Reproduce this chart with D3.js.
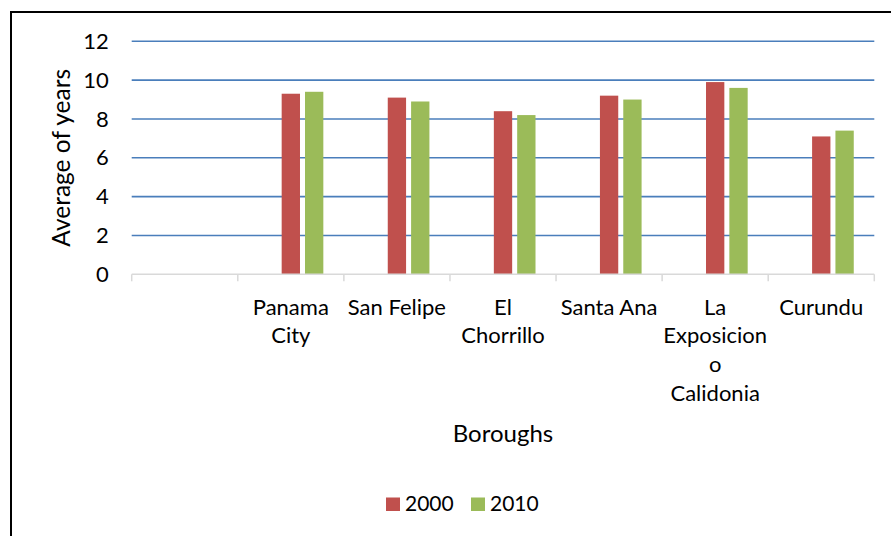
<!DOCTYPE html>
<html>
<head>
<meta charset="utf-8">
<script src="https://cdn.jsdelivr.net/npm/d3@7"></script>
<style>
  html, body { margin: 0; padding: 0; background: #fff; }
  svg { display: block; font-family: Lato, "Open Sans", sans-serif; }
</style>
</head>
<body>
<svg id="chart" width="891" height="536"></svg>
<script>
// Boroughs (line breaks mark where each axis label wraps); the first category is blank
const categories = ["", "Panama\nCity", "San Felipe", "El\nChorrillo", "Santa Ana", "La\nExposicion\no\nCalidonia", "Curundu"];
const seriesNames = ["2000", "2010"];
const values2000 = [null, 9.3, 9.1, 8.4, 9.2, 9.9, 7.1];
const values2010 = [null, 9.4, 8.9, 8.2, 9.0, 9.6, 7.4];
const yTicks = [0, 2, 4, 6, 8, 10, 12];
const colors = ["#c0504d", "#9bbb59"];
// each cluster keeps an empty leading slot before the two series
const clusterSlots = ["", "2000", "2010"];

const svg = d3.select("#chart");
const W = 891, H = 536;
const plot = { left: 131.7, right: 874.3, top: 41.3, bottom: 274.3 };

// outer frame (runs past the right and bottom edges)
svg.append("rect")
  .attr("x", 11).attr("y", 12)
  .attr("width", W + 20).attr("height", H + 20)
  .attr("fill", "#fff").attr("stroke", "#000").attr("stroke-width", 2);

const x0 = d3.scaleBand().domain(categories).range([plot.left, plot.right]).padding(0);
const x1 = d3.scaleBand().domain(clusterSlots).range([0, x0.bandwidth()])
  .paddingInner(0.215).paddingOuter(0.88);
const y = d3.scaleLinear().domain([0, 12]).range([plot.bottom, plot.top]);

// horizontal gridlines
svg.append("g").selectAll("line")
  .data(yTicks.filter(t => t > 0))
  .join("line")
  .attr("x1", plot.left).attr("x2", plot.right)
  .attr("y1", d => y(d)).attr("y2", d => y(d))
  .attr("stroke", "#4a7ebb").attr("stroke-width", 1.6);

// y axis labels
const yAxis = svg.append("g")
  .attr("transform", `translate(${plot.left},0)`)
  .call(d3.axisLeft(y).tickValues(yTicks).tickSize(0).tickPadding(23));
yAxis.select(".domain").remove();
yAxis.selectAll("text")
  .attr("font-family", "Lato, sans-serif")
  .attr("font-size", 22).attr("fill", "#000");

// bars
const seriesData = [values2000, values2010];
const barsG = svg.append("g");
seriesNames.forEach((name, si) => {
  barsG.append("g").selectAll("rect")
    .data(categories.map((c, i) => ({ c, v: seriesData[si][i] })).filter(d => d.v != null))
    .join("rect")
    .attr("x", d => x0(d.c) + x1(name))
    .attr("width", x1.bandwidth())
    .attr("y", d => y(d.v))
    .attr("height", d => y(0) - y(d.v))
    .attr("fill", colors[si]);
});

// x axis line with tick marks at category boundaries
const xg = svg.append("g");
xg.append("line")
  .attr("x1", plot.left).attr("x2", plot.right)
  .attr("y1", plot.bottom).attr("y2", plot.bottom)
  .attr("stroke", "#d9d9d9").attr("stroke-width", 1.5);
const boundaries = categories.map(c => x0(c)).concat([plot.right]);
xg.selectAll("line.tick")
  .data(boundaries)
  .join("line").attr("class", "tick")
  .attr("x1", d => d).attr("x2", d => d)
  .attr("y1", plot.bottom).attr("y2", plot.bottom + 7)
  .attr("stroke", "#d9d9d9").attr("stroke-width", 1.5);

// category labels
const labels = svg.append("g")
  .attr("font-size", 22).attr("fill", "#000").attr("text-anchor", "middle");
categories.forEach(c => {
  if (!c) return;
  const cx = x0(c) + x0.bandwidth() / 2;
  const t = labels.append("text").attr("x", cx).attr("y", 314.5);
  c.split("\n").forEach((line, li) => {
    t.append("tspan").attr("x", cx).attr("y", 314.5 + li * 28.7).text(line);
  });
});

// axis titles
svg.append("text")
  .attr("x", (plot.left + plot.right) / 2).attr("y", 442)
  .attr("text-anchor", "middle").attr("font-size", 24).attr("fill", "#000")
  .text("Boroughs");
svg.append("text")
  .attr("transform", `translate(70,${(plot.top + plot.bottom) / 2}) rotate(-90)`)
  .attr("text-anchor", "middle").attr("font-size", 24.5).attr("fill", "#000")
  .text("Average of years");

// legend
const legend = svg.append("g").attr("font-size", 21).attr("fill", "#000");
const legendX = [386, 471];
seriesNames.forEach((name, i) => {
  legend.append("rect")
    .attr("x", legendX[i]).attr("y", 497.5)
    .attr("width", 14).attr("height", 13.5)
    .attr("fill", colors[i]);
  legend.append("text")
    .attr("x", legendX[i] + 19).attr("y", 511)
    .text(name);
});
</script>
</body>
</html>
